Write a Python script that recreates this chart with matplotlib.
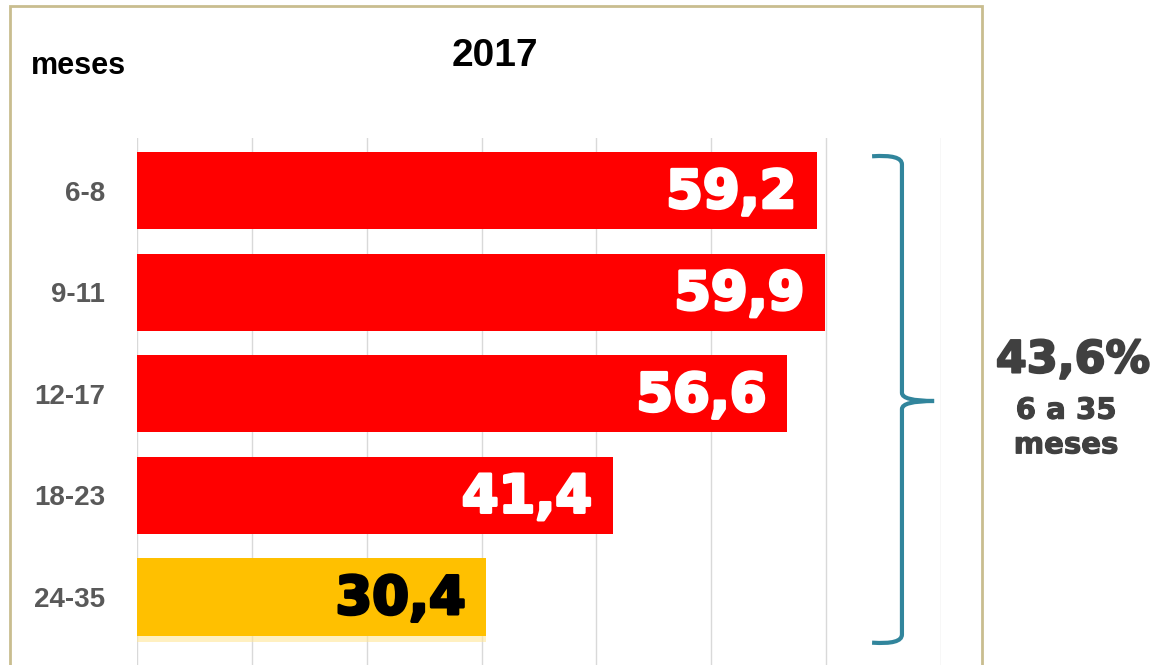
from matplotlib import pyplot as plt
from matplotlib.patches import Rectangle, PathPatch
from matplotlib.path import Path
import matplotlib.patheffects as pe
import numpy as np

# Data
grupos = ['6-8', '9-11', '12-17', '18-23', '24-35']
valores = [59.2, 59.9, 56.6, 41.4, 30.4]
cores = ['#FF0000', '#FF0000', '#FF0000', '#FF0000', '#FFC000']
cor_rotulo = ['white', 'white', 'white', 'white', 'black']
total_txt = '43,6%'
total_sub = '6 a 35\nmeses'

narrow = ['Liberation Sans Narrow', 'Liberation Sans', 'DejaVu Sans']

fig = plt.figure(figsize=(11.53, 6.65), dpi=100)
ax = fig.add_axes([137/1153, 0, (941-137)/1153, (665-138)/665])

y = np.arange(len(grupos))
# soft shadow under the yellow bar
ax.barh(y[-1:] + 0.06, valores[-1:], height=0.76, color='#FFE699', alpha=0.6, zorder=2)
ax.barh(y, valores, height=0.76, color=cores, zorder=3)

for yi, v, c in zip(y, valores, cor_rotulo):
    ax.text(v - 1.8, yi + 0.02, f'{v:.1f}'.replace('.', ','), ha='right', va='center',
            color=c, fontsize=38, fontweight='bold', family='DejaVu Sans', zorder=4,
            path_effects=[pe.withStroke(linewidth=2.2, foreground=c)])

ax.set_xlim(0, 70)
ax.set_ylim(4.67, -0.52)
ax.set_xticks(np.arange(0, 71, 10))
ax.xaxis.grid(True, color='#D9D9D9', lw=1, zorder=0)
ax.tick_params(axis='x', bottom=False, labelbottom=False)
ax.set_yticks(y)
ax.set_yticklabels(grupos, fontsize=20, fontweight='bold', color='#595959', family=narrow)
ax.tick_params(axis='y', length=0, pad=23)
for s in ax.spines.values():
    s.set_visible(False)

# brace
bx0, bx1, bx2 = 64.0, 66.6, 69.4
yt, ym, yb = -0.34, 2.07, 4.45
verts = [(bx0, yt), (bx1, yt - 0.02), (bx1, yt + 0.08),
         (bx1, ym - 0.08),
         (bx1, ym), (bx2, ym), (bx2, ym),
         (bx1, ym), (bx1, ym + 0.08),
         (bx1, yb - 0.08),
         (bx1, yb + 0.02), (bx0, yb)]
codes = [Path.MOVETO, Path.CURVE3, Path.CURVE3,
         Path.LINETO,
         Path.CURVE3, Path.CURVE3, Path.MOVETO,
         Path.CURVE3, Path.CURVE3,
         Path.LINETO,
         Path.CURVE3, Path.CURVE3]
ax.add_patch(PathPatch(Path(verts, codes), fill=False, ec='#31859C', lw=3,
                       clip_on=False, zorder=5))

fig.text(1073/1153, 1 - 360/665, total_txt, ha='center', va='center',
         fontsize=32, fontweight='bold', color='#404040', family='DejaVu Sans',
         path_effects=[pe.withStroke(linewidth=1.5, foreground='#404040')])
fig.text(1066/1153, 1 - 428/665, total_sub, ha='center', va='center',
         fontsize=21, fontweight='bold', color='#404040', family='DejaVu Sans',
         linespacing=1.3,
         path_effects=[pe.withStroke(linewidth=0.8, foreground='#404040')])

fig.text(78/1153, 1 - 66/665, 'meses', ha='center', va='center', fontsize=22,
         fontweight='bold', color='black', family=narrow)
fig.text(495/1153, 1 - 56/665, '2017', ha='center', va='center', fontsize=28,
         fontweight='bold', color='black', family=narrow)

# frame
fig.patches.append(Rectangle((10/1153, -0.05), (982-10)/1153, 1.05 - 6/665,
                             transform=fig.transFigure, fill=False,
                             ec='#C9BD8F', lw=2, zorder=0))

plt.savefig('out.png', dpi=100)
plt.close()
